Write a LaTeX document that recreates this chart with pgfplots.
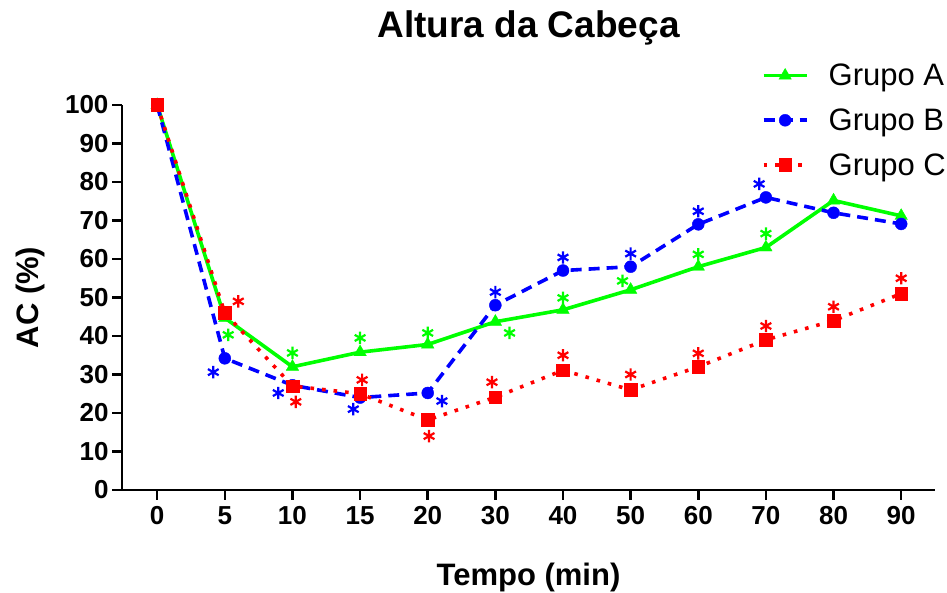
\documentclass[border=0pt]{standalone}
\usepackage{pgfplots}
\pgfplotsset{compat=1.18}
\usepackage{fontspec}
\setmainfont{Liberation Sans}

\definecolor{grpA}{RGB}{0,255,0}
\definecolor{grpB}{RGB}{0,0,255}
\definecolor{grpC}{RGB}{255,0,0}

\begin{document}
\begin{tikzpicture}
  % fixed canvas, axis box has its south west corner at (0,0)
  \path[use as bounding box] (-122pt,-103pt) rectangle (825pt,490pt);
  \begin{axis}[
    at={(0,0)}, anchor=south west,
    scale only axis, width=813pt, height=385pt,
    xmin=-0.52, xmax=11.5, ymin=0, ymax=100,
    axis lines*=left,
    axis line style={line width=2.6pt},
    every tick/.style={black, line width=2.6pt},
    tick align=outside, major tick length=10pt,
    xtick={0,...,11},
    xticklabels={0,5,10,15,20,30,40,50,60,70,80,90},
    ytick={0,10,...,100},
    /pgf/number format/assume math mode=true,
    ticklabel style={font=\fontsize{26}{26}\selectfont\bfseries},
    xticklabel style={yshift=-3pt},
    title={Altura da Cabeça},
    title style={font=\fontsize{37}{37}\selectfont\bfseries,
      at={(axis description cs:0.5,1.161)}, anchor=base},
    xlabel={Tempo (min)},
    xlabel style={font=\fontsize{31}{31}\selectfont\bfseries,
      at={(axis description cs:0.5,-0.247)}, anchor=base},
    ylabel={AC (\%)},
    ylabel style={font=\fontsize{31}{31}\selectfont\bfseries,
      at={(axis description cs:-0.103,0.5)}, anchor=base, rotate=0},
    legend style={at={(axis description cs:1.016,1.112)}, anchor=north east,
      draw=none, fill=none, font=\fontsize{31}{31}\selectfont,
      row sep=17.5pt, inner sep=0pt},
    legend cell align=left,
    legend image code/.code={
      \path[draw=none,fill=none] (0pt,0pt) -- (63pt,0pt);
      \draw[mark repeat=2,mark phase=2,#1] plot coordinates {(0pt,0pt) (21.5pt,0pt) (43pt,0pt)};},
    clip=false,
  ]
    \addplot[grpA, line width=3.6pt, mark=triangle*, mark size=7.2pt,
      mark options={solid, line width=0.4pt}]
      coordinates {(0,100) (1,44.7) (2,32) (3,35.8) (4,37.8) (5,43.7) (6,46.8) (7,52) (8,58) (9,63) (10,75.2) (11,71.2)};
    \addplot[grpB, line width=3.6pt, dash pattern=on 11pt off 7pt, mark=*, mark size=6pt,
      mark options={solid, line width=0.4pt}]
      coordinates {(0,100) (1,34.2) (2,27.2) (3,24) (4,25.2) (5,48) (6,57) (7,58) (8,69) (9,76) (10,72) (11,69.1)};
    \addplot[grpC, line width=3.6pt, dash pattern=on 3.6pt off 8pt, mark=square*, mark size=6.3pt,
      mark options={solid, line width=0.4pt}]
      coordinates {(0,100) (1,46) (2,27) (3,25) (4,18.2) (5,24.1) (6,31.1) (7,26) (8,32) (9,39) (10,44) (11,51)};
    \legend{Grupo A, Grupo B, Grupo C}

    % significance asterisks
    \addplot[forget plot, only marks, grpA, mark=asterisk, mark size=6.2pt, line width=2.2pt]
      coordinates {(1.05,40.3) (2,35.6) (3,39.5) (4,40.8) (5.21,40.8) (6,49.9) (6.88,54.3) (8,61.2) (9,66.6)};
    \addplot[forget plot, only marks, grpB, mark=asterisk, mark size=6.2pt, line width=2.2pt]
      coordinates {(0.83,30.6) (1.79,25.2) (2.9,21) (4.21,23.1) (5,51.4) (6,60.4) (7,61.4) (8,72.4) (8.9,79.5)};
    \addplot[forget plot, only marks, grpC, mark=asterisk, mark size=6.2pt, line width=2.2pt]
      coordinates {(1.2,49) (2.05,22.9) (3.03,28.6) (4.02,14) (4.95,28) (6,35) (7,30) (8,35.5) (9,42.6) (10,47.6) (11,55)};
  \end{axis}
\end{tikzpicture}
\end{document}
